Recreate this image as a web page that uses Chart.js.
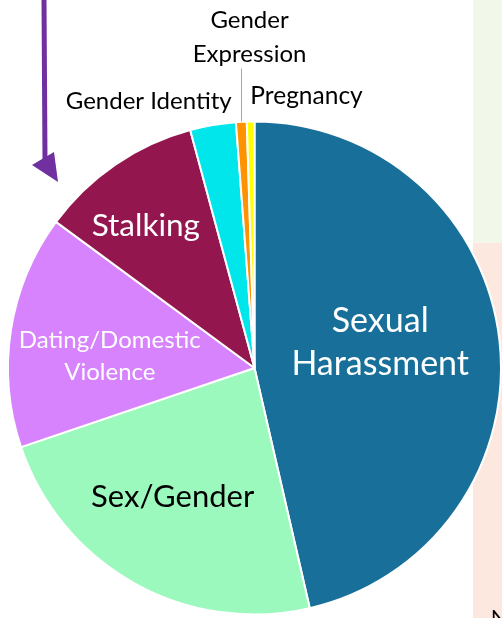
<!DOCTYPE html>
<html>
<head>
<meta charset="utf-8">
<script src="https://cdn.jsdelivr.net/npm/chart.js@4.4.1/dist/chart.umd.min.js"></script>
<style>
html,body{margin:0;padding:0;background:#fff;}
#wrap{position:relative;width:502px;height:618px;}
</style>
</head>
<body>
<div id="wrap"><canvas id="c" width="502" height="618"></canvas></div>
<script>
const categories = ["Sexual Harassment","Sex/Gender","Dating/Domestic Violence","Stalking","Gender Identity","Gender Expression","Pregnancy"];
const values = [46.4, 23.4, 15.3, 10.7, 3.0, 0.7, 0.5];
const colors = ["#18709A","#9CF9BE","#D683FD","#93174E","#00E6EB","#FF9200","#FFFF00"];

// label lines: [text, fx, fy (baseline), size, color] relative to center in radius units
const labelLines = [
  ["Sexual", 0.510, -0.146, 34, "#ffffff"],
  ["Harassment", 0.510, 0.028, 34, "#ffffff"],
  ["Sex/Gender", -0.332, 0.563, 31, "#000000"],
  ["Stalking", -0.441, -0.534, 31.5, "#ffffff"],
  ["Dating/Domestic", -0.587, -0.081, 24, "#ffffff"],
  ["Violence", -0.587, 0.049, 24, "#ffffff"],
  ["Gender Identity", -0.429, -1.049, 24, "#000000"],
  ["Gender", -0.020, -1.381, 24, "#000000"],
  ["Expression", -0.020, -1.243, 24, "#000000"],
  ["Pregnancy", 0.211, -1.073, 24.5, "#000000"]
];

const decor = {
  id: 'decor',
  beforeDraw(chart) {
    const ctx = chart.ctx;
    ctx.save();
    ctx.fillStyle = '#F1F8E9';
    ctx.fillRect(473, 0, 29, 243);
    ctx.fillStyle = '#FDE8DF';
    ctx.fillRect(473, 243, 29, 375);
    ctx.fillStyle = '#000';
    ctx.font = '20px Lato';
    ctx.textBaseline = 'alphabetic';
    ctx.fillText('N', 491, 624);
    // arrow
    ctx.strokeStyle = '#7030A0';
    ctx.lineWidth = 5;
    ctx.beginPath();
    ctx.moveTo(44, 0);
    ctx.lineTo(45, 160);
    ctx.stroke();
    ctx.fillStyle = '#7030A0';
    ctx.beginPath();
    ctx.moveTo(32, 165);
    ctx.lineTo(54, 152);
    ctx.lineTo(58, 182);
    ctx.closePath();
    ctx.fill();
    ctx.restore();
  },
  afterDatasetsDraw(chart) {
    const ctx = chart.ctx;
    const arcs = chart.getDatasetMeta(0).data;
    const a0 = arcs[0];
    const cx = a0.x, cy = a0.y, r = a0.outerRadius;
    ctx.save();
    ctx.textAlign = 'center';
    ctx.textBaseline = 'alphabetic';
    labelLines.forEach(([t, fx, fy, s, col]) => {
      ctx.font = s + 'px Lato';
      ctx.fillStyle = col;
      ctx.fillText(t, cx + fx * r, cy + fy * r);
    });
    // leader line for Gender Expression
    const ge = arcs[5];
    const mid = (ge.startAngle + ge.endAngle) / 2;
    const lx = Math.round(cx + Math.cos(mid) * r) + 0.5;
    ctx.strokeStyle = '#A6A6A6';
    ctx.lineWidth = 1;
    ctx.beginPath();
    ctx.moveTo(lx, cy - 1.0 * r);
    ctx.lineTo(lx, cy - 1.215 * r);
    ctx.stroke();
    ctx.restore();
  }
};

new Chart(document.getElementById('c'), {
  type: 'pie',
  data: {
    labels: categories,
    datasets: [{
      data: values,
      backgroundColor: colors,
      borderColor: '#ffffff',
      borderWidth: 2
    }]
  },
  options: {
    responsive: false,
    animation: false,
    layout: { padding: { left: 7, top: 120, right: 0, bottom: 2 } },
    plugins: { legend: { display: false }, tooltip: { enabled: false } }
  },
  plugins: [decor]
});
</script>
</body>
</html>
